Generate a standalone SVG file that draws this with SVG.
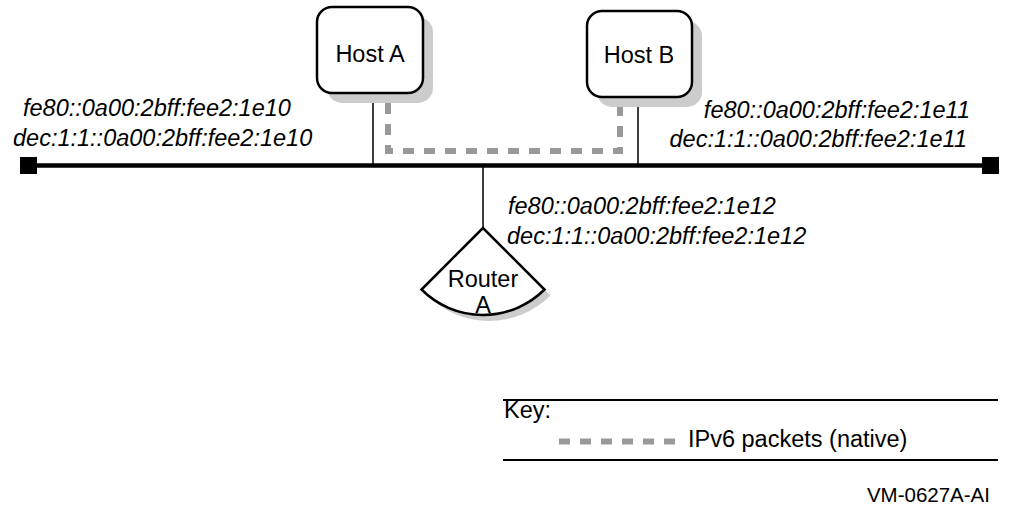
<svg xmlns="http://www.w3.org/2000/svg" width="1009" height="506" viewBox="0 0 1009 506">
<style>
.lbl{font-family:"Liberation Sans",Arial,sans-serif;font-size:23.5px;fill:#000}
.it{font-style:italic}
.box{fill:#fff;stroke:#000;stroke-width:2.5}
.shadow{fill:#cccccc;stroke:none}
.wire{stroke:#000;stroke-width:1.5;fill:none}
.pkt{stroke:#999;stroke-width:6;fill:none;stroke-dasharray:11 10}
</style>
<rect width="1009" height="506" fill="#fff"/>
<g id="connectors">
<line x1="20" y1="165.5" x2="999" y2="165.5" stroke="#000" stroke-width="4.5"/>
<rect x="20" y="157" width="17" height="17" fill="#000"/>
<rect x="982" y="157" width="17" height="17" fill="#000"/>
<line class="wire" x1="373" y1="93" x2="373" y2="165"/>
<line class="wire" x1="638" y1="97" x2="638" y2="165"/>
<line class="wire" x1="483" y1="165" x2="483" y2="228"/>
<path class="pkt" d="M388,103 V151 H620 V98"/>
</g>
<g id="hostA">
<rect class="shadow" x="327" y="17" width="106" height="86" rx="15"/>
<rect class="box" x="317" y="7" width="106" height="86" rx="15"/>
<text class="lbl" x="370" y="62" text-anchor="middle">Host A</text>
</g>
<g id="hostB">
<rect class="shadow" x="597" y="21" width="105" height="86" rx="15"/>
<rect class="box" x="587" y="11" width="105" height="86" rx="15"/>
<text class="lbl" x="639" y="63" text-anchor="middle">Host B</text>
</g>
<g id="routerA">
<path class="shadow" d="M489,234 L427.5,295.5 A87,87 0 0,0 550.5,295.5 Z"/>
<path class="box" d="M483,228 L421.5,289.5 A87,87 0 0,0 544.5,289.5 Z"/>
<text class="lbl" x="483" y="287" text-anchor="middle">Router</text>
<text class="lbl" x="483" y="313" text-anchor="middle">A</text>
</g>
<g id="labels">
<text class="lbl it" x="23" y="116">fe80::0a00:2bff:fee2:1e10</text>
<text class="lbl it" x="13" y="146">dec:1:1::0a00:2bff:fee2:1e10</text>
<text class="lbl it" x="970" y="118" text-anchor="end">fe80::0a00:2bff:fee2:1e11</text>
<text class="lbl it" x="967" y="147" text-anchor="end">dec:1:1::0a00:2bff:fee2:1e11</text>
<text class="lbl it" x="508" y="214">fe80::0a00:2bff:fee2:1e12</text>
<text class="lbl it" x="507" y="244">dec:1:1::0a00:2bff:fee2:1e12</text>
</g>
<g id="key">
<line x1="503" y1="400" x2="998" y2="400" stroke="#000" stroke-width="2"/>
<line x1="503" y1="460" x2="998" y2="460" stroke="#000" stroke-width="2"/>
<text class="lbl" x="504" y="418">Key:</text>
<line class="pkt" x1="559" y1="441.5" x2="677" y2="441.5"/>
<text class="lbl" x="688" y="447">IPv6 packets (native)</text>
<text class="lbl" x="990" y="502" text-anchor="end" style="font-size:20.5px">VM-0627A-AI</text>
</g>
</svg>
